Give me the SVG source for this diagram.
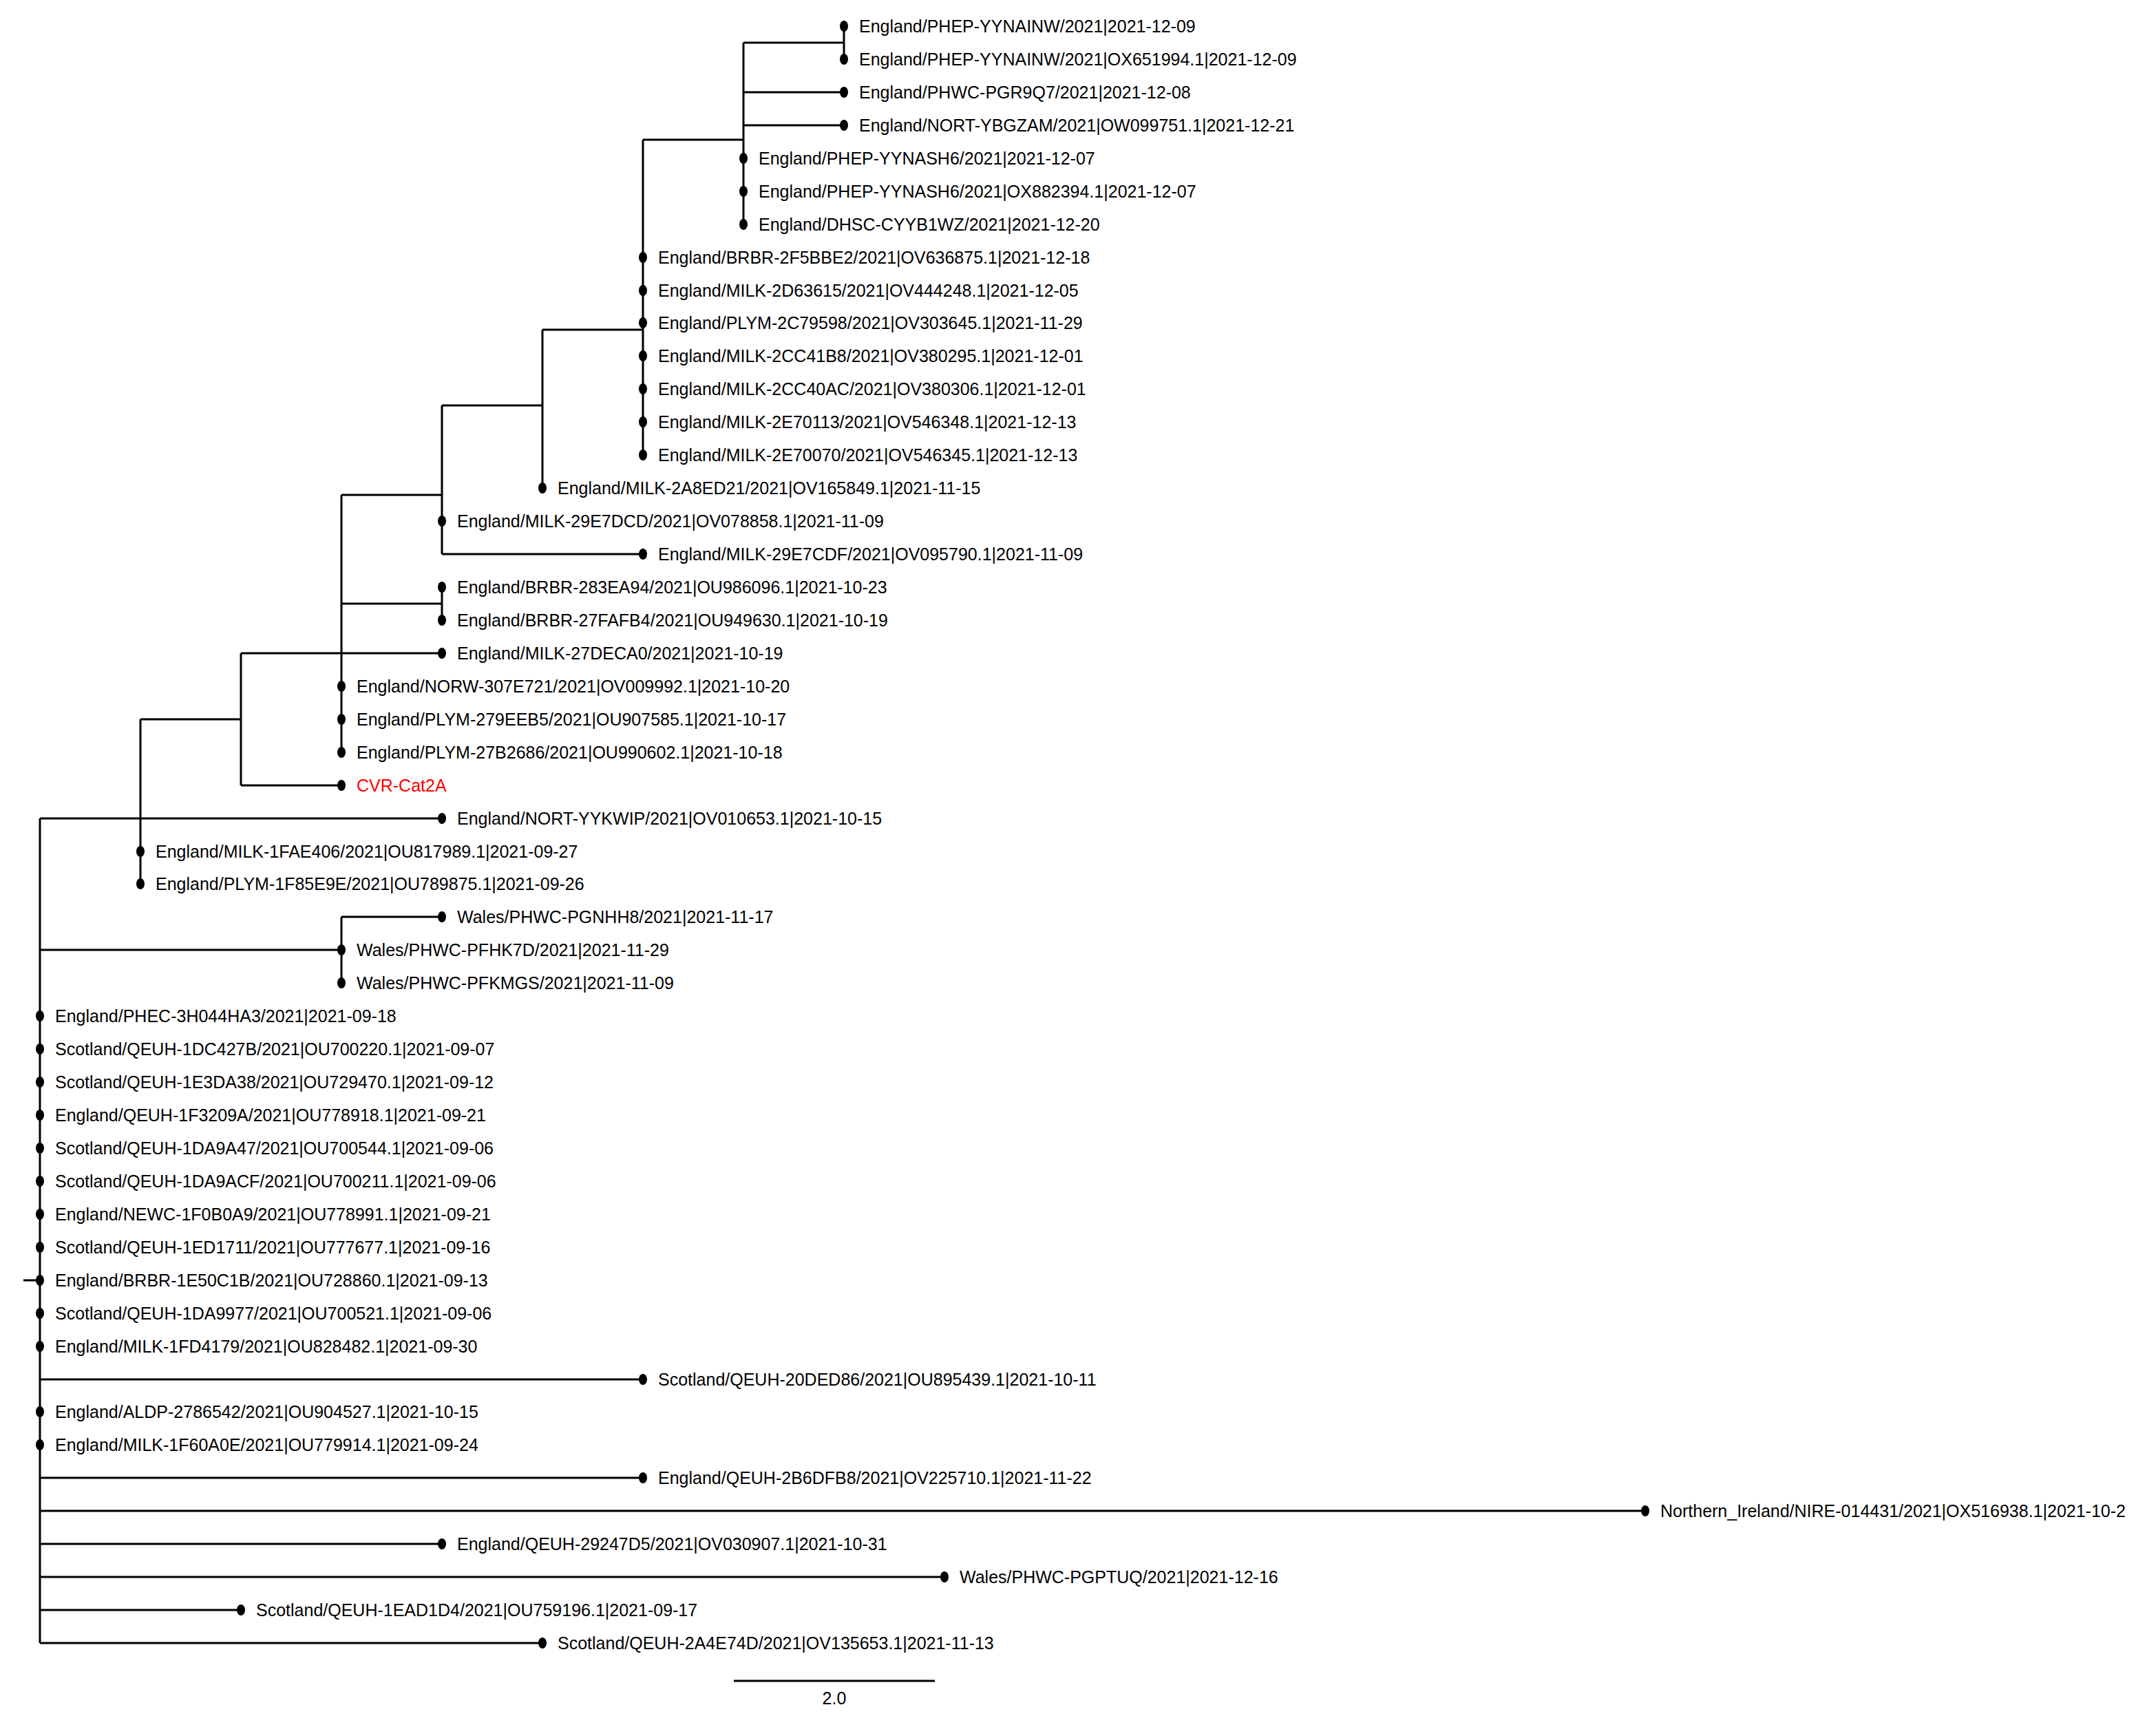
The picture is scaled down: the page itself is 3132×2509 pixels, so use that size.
<svg xmlns="http://www.w3.org/2000/svg" width="3132" height="2509" viewBox="0 0 3132 2509">
<style>
.c{fill:none;stroke:#000;stroke-width:3}
text{font-family:"Liberation Sans",Arial,sans-serif;font-size:25px;fill:#000}
.red{fill:#ff0000}
</style>
<defs><ellipse id="d" rx="6" ry="8" fill="#000"/></defs>
<rect width="3132" height="2509" fill="#fff"/>
<g id="connectors" class="c">
<path d="M1226 38V86M1080 62H1226M1080 134H1226M1080 182H1226M1080 62V326M934 203H1080"/>
<path d="M934 203V661M788 479H934M788 479V709M642 589H788M642 589V805M642 805H934M496 719H642"/>
<path d="M642 853V901M496 877H642M496 949H642M496 719V1093M350 949H496M350 1141H496M350 949V1141M204 1045H350M204 1045V1284M58 1189H642"/>
<path d="M496 1332V1428M58 1380H496M496 1332H642"/>
<path d="M58 1189V2387M34 1860H58M58 2004H934M58 2147H934M58 2195H2390M58 2243H642M58 2291H1372M58 2339H350M58 2387H788"/>
<path d="M1066 2442H1358"/>
</g>
<g id="n0"><use href="#d" x="1226" y="38"/><text x="1248" y="47">England/PHEP-YYNAINW/2021|2021-12-09</text></g>
<g id="n1"><use href="#d" x="1226" y="86"/><text x="1248" y="95">England/PHEP-YYNAINW/2021|OX651994.1|2021-12-09</text></g>
<g id="n2"><use href="#d" x="1226" y="134"/><text x="1248" y="143">England/PHWC-PGR9Q7/2021|2021-12-08</text></g>
<g id="n3"><use href="#d" x="1226" y="182"/><text x="1248" y="191">England/NORT-YBGZAM/2021|OW099751.1|2021-12-21</text></g>
<g id="n4"><use href="#d" x="1080" y="230"/><text x="1102" y="239">England/PHEP-YYNASH6/2021|2021-12-07</text></g>
<g id="n5"><use href="#d" x="1080" y="278"/><text x="1102" y="287">England/PHEP-YYNASH6/2021|OX882394.1|2021-12-07</text></g>
<g id="n6"><use href="#d" x="1080" y="326"/><text x="1102" y="335">England/DHSC-CYYB1WZ/2021|2021-12-20</text></g>
<g id="n7"><use href="#d" x="934" y="374"/><text x="956" y="383">England/BRBR-2F5BBE2/2021|OV636875.1|2021-12-18</text></g>
<g id="n8"><use href="#d" x="934" y="422"/><text x="956" y="431">England/MILK-2D63615/2021|OV444248.1|2021-12-05</text></g>
<g id="n9"><use href="#d" x="934" y="469"/><text x="956" y="478">England/PLYM-2C79598/2021|OV303645.1|2021-11-29</text></g>
<g id="n10"><use href="#d" x="934" y="517"/><text x="956" y="526">England/MILK-2CC41B8/2021|OV380295.1|2021-12-01</text></g>
<g id="n11"><use href="#d" x="934" y="565"/><text x="956" y="574">England/MILK-2CC40AC/2021|OV380306.1|2021-12-01</text></g>
<g id="n12"><use href="#d" x="934" y="613"/><text x="956" y="622">England/MILK-2E70113/2021|OV546348.1|2021-12-13</text></g>
<g id="n13"><use href="#d" x="934" y="661"/><text x="956" y="670">England/MILK-2E70070/2021|OV546345.1|2021-12-13</text></g>
<g id="n14"><use href="#d" x="788" y="709"/><text x="810" y="718">England/MILK-2A8ED21/2021|OV165849.1|2021-11-15</text></g>
<g id="n15"><use href="#d" x="642" y="757"/><text x="664" y="766">England/MILK-29E7DCD/2021|OV078858.1|2021-11-09</text></g>
<g id="n16"><use href="#d" x="934" y="805"/><text x="956" y="814">England/MILK-29E7CDF/2021|OV095790.1|2021-11-09</text></g>
<g id="n17"><use href="#d" x="642" y="853"/><text x="664" y="862">England/BRBR-283EA94/2021|OU986096.1|2021-10-23</text></g>
<g id="n18"><use href="#d" x="642" y="901"/><text x="664" y="910">England/BRBR-27FAFB4/2021|OU949630.1|2021-10-19</text></g>
<g id="n19"><use href="#d" x="642" y="949"/><text x="664" y="958">England/MILK-27DECA0/2021|2021-10-19</text></g>
<g id="n20"><use href="#d" x="496" y="997"/><text x="518" y="1006">England/NORW-307E721/2021|OV009992.1|2021-10-20</text></g>
<g id="n21"><use href="#d" x="496" y="1045"/><text x="518" y="1054">England/PLYM-279EEB5/2021|OU907585.1|2021-10-17</text></g>
<g id="n22"><use href="#d" x="496" y="1093"/><text x="518" y="1102">England/PLYM-27B2686/2021|OU990602.1|2021-10-18</text></g>
<g id="n23"><use href="#d" x="496" y="1141"/><text class="red" x="518" y="1150">CVR-Cat2A</text></g>
<g id="n24"><use href="#d" x="642" y="1189"/><text x="664" y="1198">England/NORT-YYKWIP/2021|OV010653.1|2021-10-15</text></g>
<g id="n25"><use href="#d" x="204" y="1237"/><text x="226" y="1246">England/MILK-1FAE406/2021|OU817989.1|2021-09-27</text></g>
<g id="n26"><use href="#d" x="204" y="1284"/><text x="226" y="1293">England/PLYM-1F85E9E/2021|OU789875.1|2021-09-26</text></g>
<g id="n27"><use href="#d" x="642" y="1332"/><text x="664" y="1341">Wales/PHWC-PGNHH8/2021|2021-11-17</text></g>
<g id="n28"><use href="#d" x="496" y="1380"/><text x="518" y="1389">Wales/PHWC-PFHK7D/2021|2021-11-29</text></g>
<g id="n29"><use href="#d" x="496" y="1428"/><text x="518" y="1437">Wales/PHWC-PFKMGS/2021|2021-11-09</text></g>
<g id="n30"><use href="#d" x="58" y="1476"/><text x="80" y="1485">England/PHEC-3H044HA3/2021|2021-09-18</text></g>
<g id="n31"><use href="#d" x="58" y="1524"/><text x="80" y="1533">Scotland/QEUH-1DC427B/2021|OU700220.1|2021-09-07</text></g>
<g id="n32"><use href="#d" x="58" y="1572"/><text x="80" y="1581">Scotland/QEUH-1E3DA38/2021|OU729470.1|2021-09-12</text></g>
<g id="n33"><use href="#d" x="58" y="1620"/><text x="80" y="1629">England/QEUH-1F3209A/2021|OU778918.1|2021-09-21</text></g>
<g id="n34"><use href="#d" x="58" y="1668"/><text x="80" y="1677">Scotland/QEUH-1DA9A47/2021|OU700544.1|2021-09-06</text></g>
<g id="n35"><use href="#d" x="58" y="1716"/><text x="80" y="1725">Scotland/QEUH-1DA9ACF/2021|OU700211.1|2021-09-06</text></g>
<g id="n36"><use href="#d" x="58" y="1764"/><text x="80" y="1773">England/NEWC-1F0B0A9/2021|OU778991.1|2021-09-21</text></g>
<g id="n37"><use href="#d" x="58" y="1812"/><text x="80" y="1821">Scotland/QEUH-1ED1711/2021|OU777677.1|2021-09-16</text></g>
<g id="n38"><use href="#d" x="58" y="1860"/><text x="80" y="1869">England/BRBR-1E50C1B/2021|OU728860.1|2021-09-13</text></g>
<g id="n39"><use href="#d" x="58" y="1908"/><text x="80" y="1917">Scotland/QEUH-1DA9977/2021|OU700521.1|2021-09-06</text></g>
<g id="n40"><use href="#d" x="58" y="1956"/><text x="80" y="1965">England/MILK-1FD4179/2021|OU828482.1|2021-09-30</text></g>
<g id="n41"><use href="#d" x="934" y="2004"/><text x="956" y="2013">Scotland/QEUH-20DED86/2021|OU895439.1|2021-10-11</text></g>
<g id="n42"><use href="#d" x="58" y="2051"/><text x="80" y="2060">England/ALDP-2786542/2021|OU904527.1|2021-10-15</text></g>
<g id="n43"><use href="#d" x="58" y="2099"/><text x="80" y="2108">England/MILK-1F60A0E/2021|OU779914.1|2021-09-24</text></g>
<g id="n44"><use href="#d" x="934" y="2147"/><text x="956" y="2156">England/QEUH-2B6DFB8/2021|OV225710.1|2021-11-22</text></g>
<g id="n45"><use href="#d" x="2390" y="2195"/><text x="2412" y="2204">Northern_Ireland/NIRE-014431/2021|OX516938.1|2021-10-2</text></g>
<g id="n46"><use href="#d" x="642" y="2243"/><text x="664" y="2252">England/QEUH-29247D5/2021|OV030907.1|2021-10-31</text></g>
<g id="n47"><use href="#d" x="1372" y="2291"/><text x="1394" y="2300">Wales/PHWC-PGPTUQ/2021|2021-12-16</text></g>
<g id="n48"><use href="#d" x="350" y="2339"/><text x="372" y="2348">Scotland/QEUH-1EAD1D4/2021|OU759196.1|2021-09-17</text></g>
<g id="n49"><use href="#d" x="788" y="2387"/><text x="810" y="2396">Scotland/QEUH-2A4E74D/2021|OV135653.1|2021-11-13</text></g>
<text x="1212" y="2476" text-anchor="middle">2.0</text>
</svg>
